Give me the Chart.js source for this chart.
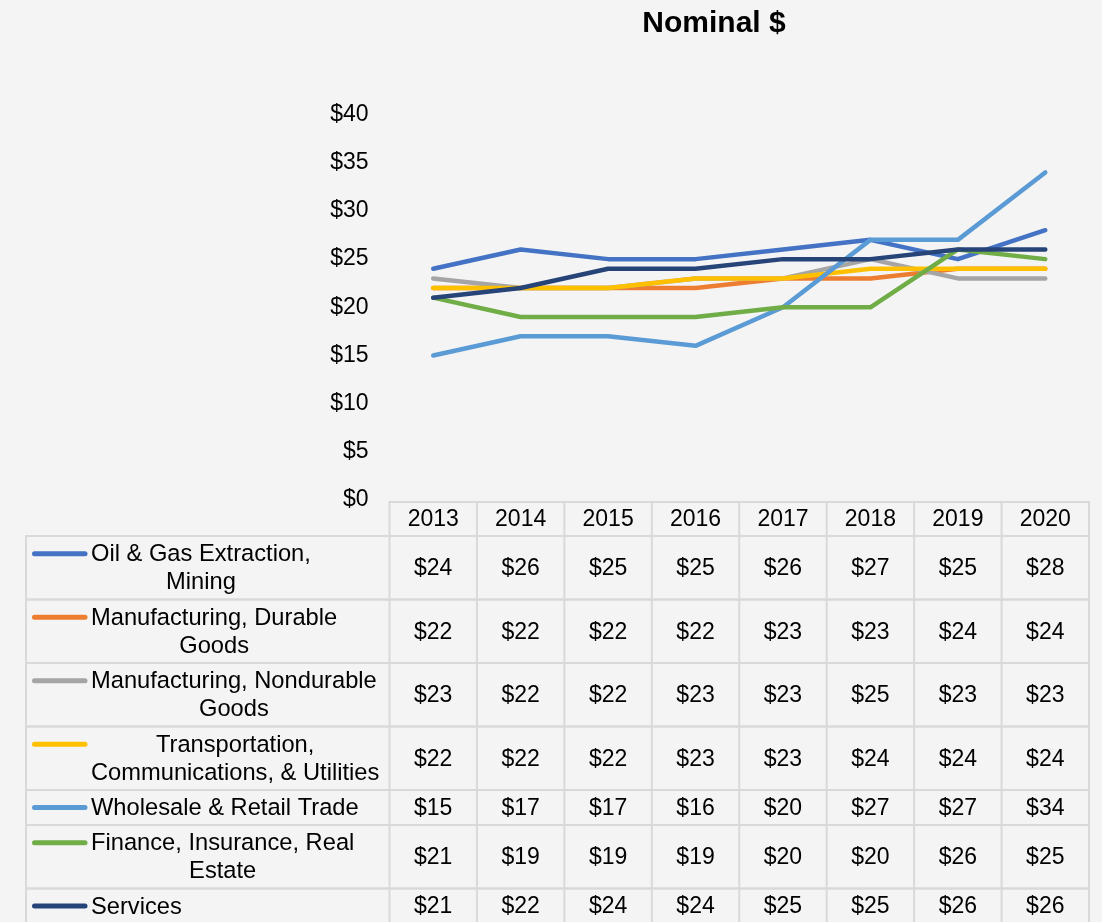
<!DOCTYPE html>
<html>
<head>
<meta charset="utf-8">
<script src="https://cdn.jsdelivr.net/npm/chart.js@4"></script>
<style>
  body { margin: 0; background: #f4f4f4; }
  #wrap { width: 1102px; height: 922px; position: relative; }
</style>
</head>
<body>
<div id="wrap"><canvas id="chart"></canvas></div>
<script>
// Data
const years = ['2013', '2014', '2015', '2016', '2017', '2018', '2019', '2020'];
const seriesNames = [
    'Oil & Gas Extraction, Mining',
    'Manufacturing, Durable Goods',
    'Manufacturing, Nondurable Goods',
    'Transportation, Communications, & Utilities',
    'Wholesale & Retail Trade',
    'Finance, Insurance, Real Estate',
    'Services'
];
const oilGas = [24, 26, 25, 25, 26, 27, 25, 28];
const mfgDurable = [22, 22, 22, 22, 23, 23, 24, 24];
const mfgNondurable = [23, 22, 22, 23, 23, 25, 23, 23];
const transport = [22, 22, 22, 23, 23, 24, 24, 24];
const wholesale = [15, 17, 17, 16, 20, 27, 27, 34];
const finance = [21, 19, 19, 19, 20, 20, 26, 25];
const services = [21, 22, 24, 24, 25, 25, 26, 26];
const seriesValues = [oilGas, mfgDurable, mfgNondurable, transport, wholesale, finance, services];
const yTicks = [0, 5, 10, 15, 20, 25, 30, 35, 40];

const colors = ['#4472C4', '#ED7D31', '#A5A5A5', '#FFC000', '#5B9BD5', '#70AD47', '#264478'];
const FONT = '"Liberation Sans", Arial, sans-serif';

Chart.defaults.font.family = FONT;
Chart.defaults.color = '#000';

const wrapText = (ctx, text, maxW) => {
    const words = text.split(' ');
    const lines = [];
    let cur = '';
    words.forEach(w => {
        const test = cur ? cur + ' ' + w : w;
        if (ctx.measureText(test).width > maxW && cur) {
            lines.push(cur);
            cur = w;
        } else {
            cur = test;
        }
    });
    if (cur) lines.push(cur);
    return lines;
};

// Title + data table under the plot
const tablePlugin = {
    id: 'dataTable',
    afterDraw(chart) {
        const ctx = chart.ctx;
        const x = chart.scales.x;
        const half = (x.getPixelForValue(1) - x.getPixelForValue(0)) / 2;
        const colL = x.getPixelForValue(0) - half;
        const colR = x.getPixelForValue(years.length - 1) + half;
        const tableL = 26;
        const headTop = 502, headBot = 536;
        const labelFont = '23.7px ' + FONT;
        const valueFont = '23px ' + FONT;

        ctx.save();
        ctx.font = 'bold 30px ' + FONT;
        ctx.fillStyle = '#000';
        ctx.textAlign = 'center';
        ctx.textBaseline = 'middle';
        ctx.fillText('Nominal $', 714, 24);

        ctx.font = valueFont;
        ctx.strokeStyle = '#d9d9d9';
        ctx.lineWidth = 2;

        // header
        ctx.strokeRect(colL, headTop, colR - colL, headBot - headTop);
        years.forEach((yr, i) => {
            const cx = x.getPixelForValue(i);
            ctx.beginPath();
            ctx.moveTo(cx + half, headTop);
            ctx.lineTo(cx + half, headBot);
            ctx.stroke();
            ctx.fillText(yr, cx, (headTop + headBot) / 2 + 1);
        });

        // rows
        let top = headBot;
        seriesNames.forEach((name, r) => {
            ctx.font = labelFont;
            const lines = wrapText(ctx, name, 294);
            const h = 28.5 * lines.length + 6.5;
            const mid = top + h / 2;
            ctx.strokeStyle = '#d9d9d9';
            ctx.lineWidth = 2;
            ctx.strokeRect(tableL, top, colR - tableL, h);
            ctx.beginPath();
            ctx.moveTo(colL, top);
            ctx.lineTo(colL, top + h);
            years.forEach((yr, i) => {
                const bx = x.getPixelForValue(i) + half;
                ctx.moveTo(bx, top);
                ctx.lineTo(bx, top + h);
            });
            ctx.stroke();

            // legend swatch
            const firstY = mid - 14 * (lines.length - 1);
            ctx.strokeStyle = colors[r];
            ctx.lineWidth = 5;
            ctx.lineCap = 'round';
            ctx.beginPath();
            ctx.moveTo(34.5, firstY);
            ctx.lineTo(85, firstY);
            ctx.stroke();
            ctx.lineCap = 'butt';

            // label
            const blockW = Math.max(...lines.map(l => ctx.measureText(l).width));
            lines.forEach((l, k) => {
                ctx.fillText(l, 91 + blockW / 2, firstY + 28 * k + 1);
            });

            // values
            ctx.font = valueFont;
            seriesValues[r].forEach((v, i) => {
                ctx.fillText('$' + v, x.getPixelForValue(i), mid + 1);
            });
            top += h;
        });
        ctx.restore();
    }
};

new Chart(document.getElementById('chart'), {
    type: 'line',
    data: {
        labels: years,
        datasets: seriesNames.map((name, i) => ({
            label: name,
            data: seriesValues[i],
            borderColor: colors[i],
            backgroundColor: colors[i],
            borderWidth: 4.5,
            borderCapStyle: 'round',
            borderJoinStyle: 'round',
            pointRadius: 0,
            tension: 0,
            order: seriesNames.length - 1 - i
        }))
    },
    options: {
        responsive: true,
        maintainAspectRatio: false,
        animation: false,
        layout: { padding: { left: 0, right: 13, top: 114.6, bottom: 422 } },
        plugins: {
            legend: { display: false },
            title: { display: false },
            tooltip: { enabled: false }
        },
        scales: {
            x: {
                display: false,
                offset: true
            },
            y: {
                min: 0,
                max: 40,
                afterBuildTicks: s => { s.ticks = yTicks.map(v => ({ value: v })); },
                afterFit: s => { s.width = 389.5; },
                grid: { display: false, drawTicks: false },
                border: { display: false },
                ticks: {
                    padding: 21,
                    font: { size: 23 },
                    color: '#000',
                    callback: v => '$' + v
                }
            }
        }
    },
    plugins: [tablePlugin]
});
</script>
</body>
</html>
